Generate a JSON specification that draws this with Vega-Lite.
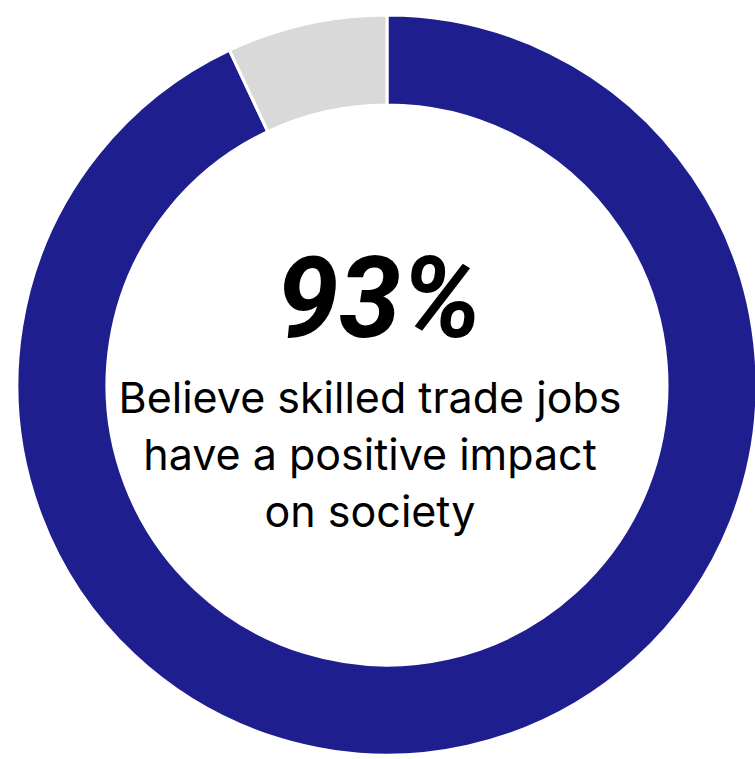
{
  "$schema": "https://vega.github.io/schema/vega-lite/v6.json",
  "width": 740,
  "height": 740,
  "autosize": "none",
  "padding": {"left": 17, "top": 15, "right": 0, "bottom": 0},
  "background": "white",
  "config": {"view": {"stroke": null}},
  "layer": [
    {
      "data": {"values": [
        {"category": "Believe positive impact", "value": 93, "rank": 1},
        {"category": "Other", "value": 7, "rank": 2}
      ]},
      "mark": {"type": "arc", "innerRadius": 280, "outerRadius": 370, "stroke": "white", "strokeWidth": 3},
      "encoding": {
        "theta": {"field": "value", "type": "quantitative", "stack": true},
        "color": {"field": "category", "type": "nominal", "legend": null,
          "scale": {"domain": ["Believe positive impact", "Other"], "range": ["#1e1e8e", "#d9d9d9"]}},
        "order": {"field": "rank", "type": "quantitative"}
      }
    },
    {
      "data": {"values": [{"label": "93%"}]},
      "mark": {"type": "text", "font": "Roboto", "fontWeight": 700, "fontStyle": "italic", "fontSize": 112, "letterSpacing": -7, "align": "center", "baseline": "alphabetic", "dy": -48, "dx": -8, "color": "#000000"},
      "encoding": {"text": {"field": "label", "type": "nominal"}}
    },
    {
      "data": {"values": [{"label": ["Believe skilled trade jobs", "have a positive impact", "on society"]}]},
      "mark": {"type": "text", "font": "Inter", "fontWeight": 400, "fontSize": 43, "lineHeight": 57, "align": "center", "baseline": "alphabetic", "dy": 28, "dx": -17, "color": "#000000"},
      "encoding": {"text": {"field": "label"}}
    }
  ]
}
